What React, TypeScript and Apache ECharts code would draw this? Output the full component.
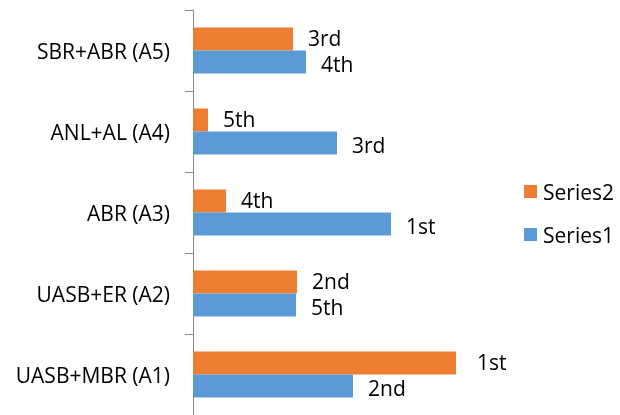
import React, { useEffect, useRef } from "react";
import * as echarts from "echarts";

const categories = ["UASB+MBR (A1)", "UASB+ER (A2)", "ABR (A3)", "ANL+AL (A4)", "SBR+ABR (A5)"];
const series1Values = [160, 103, 198, 144, 113];
const series2Values = [263, 104, 33, 15, 100];
const series1Ranks = ["2nd", "5th", "1st", "3rd", "4th"];
const series2Ranks = ["1st", "2nd", "4th", "5th", "3rd"];

const FONT = "Open Sans";
const FS = 21;

export default function App() {
  const ref = useRef<HTMLDivElement>(null);
  useEffect(() => {
    if (!ref.current) return;
    const chart = echarts.init(ref.current, undefined, { renderer: "svg" });
    chart.setOption({
      animation: false,
      textStyle: { fontFamily: FONT },
      grid: { left: 193, right: 127, top: 10, bottom: -2, containLabel: false },
      legend: {
        orient: "vertical",
        left: 519,
        top: 176,
        itemWidth: 13,
        itemHeight: 13,
        itemGap: 22,
        icon: "rect",
        data: ["Series2", "Series1"],
        textStyle: { fontFamily: FONT, fontSize: FS, color: "#000", padding: [0, 0, 0, 1] },
      },
      xAxis: {
        type: "value",
        min: 0,
        max: 300,
        show: false,
      },
      yAxis: {
        type: "category",
        data: categories,
        axisLine: { lineStyle: { color: "#8c8c8c", width: 1 } },
        axisTick: { show: true, length: 8, lineStyle: { color: "#8c8c8c" } },
        axisLabel: { margin: 23, fontFamily: FONT, fontSize: FS, color: "#000" },
        splitLine: { show: false },
      },
      series: [
        {
          name: "Series2",
          type: "bar",
          barWidth: 23,
          barGap: "0%",
          itemStyle: { color: "#ED7D31" },
          label: {
            show: true,
            position: "right",
            distance: 15,
            offset: [0, -1],
            fontFamily: FONT,
            fontSize: FS,
            lineHeight: 22,
            color: "#000",
            formatter: (p: any) => series2Ranks[p.dataIndex],
          },
          data: series2Values.map((v, i) => (i === 0 ? { value: v, label: { distance: 21 } } : v)),
        },
        {
          name: "Series1",
          type: "bar",
          barWidth: 23,
          barGap: "0%",
          itemStyle: { color: "#5B9BD5" },
          label: {
            show: true,
            position: "right",
            distance: 15,
            offset: [0, 2],
            fontFamily: FONT,
            fontSize: FS,
            lineHeight: 22,
            color: "#000",
            formatter: (p: any) => series1Ranks[p.dataIndex],
          },
          data: series1Values,
        },
      ],
    });
    return () => chart.dispose();
  }, []);
  return <div ref={ref} style={{ position: "fixed", left: 0, top: 0, width: 620, height: 415 }} />;
}
